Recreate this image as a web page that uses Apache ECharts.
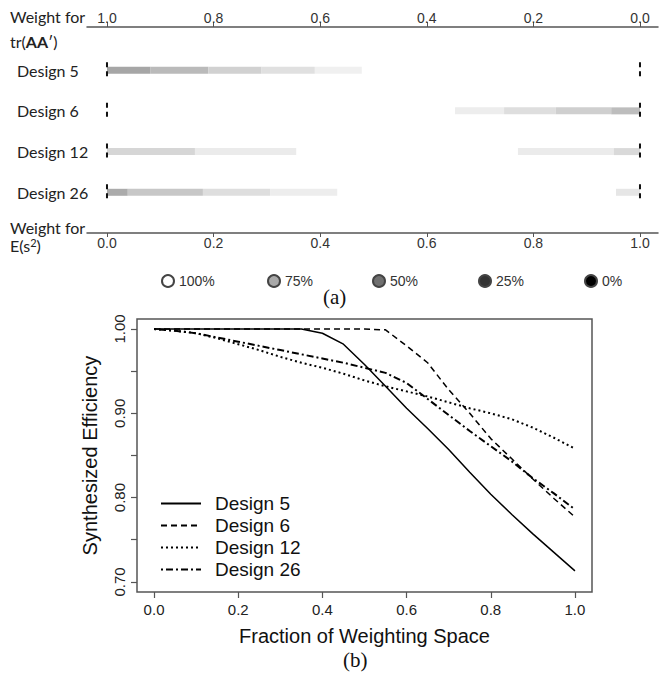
<!DOCTYPE html>
<html><head><meta charset="utf-8">
<script src="https://cdn.jsdelivr.net/npm/echarts@6/dist/echarts.min.js"></script>
<style>html,body{margin:0;padding:0;background:#fff}#c{width:659px;height:675px}</style>
</head><body><div id="c"></div>
<script>
// ---------- Panel (a) data ----------
const designs = ['Design 5', 'Design 6', 'Design 12', 'Design 26'];
const designRows = [4, 3, 2, 1];
const weightTicks = [0, 0.2, 0.4, 0.6, 0.8, 1.0];
// segment boundaries (weight for E(s^2)) and grey level of each segment (1 = white, 0 = black)
const d5Breaks = [0, 0.081, 0.19, 0.29, 0.39, 0.478];
const d5Levels = [0.65, 0.73, 0.82, 0.88, 0.94];
const d6Breaks = [0.653, 0.745, 0.842, 0.946, 1.0];
const d6Levels = [0.93, 0.87, 0.81, 0.74];
const d12Breaks = [0, 0.165, 0.355, 0.771, 0.951, 1.0];
const d12Levels = [0.84, 0.92, null, 0.92, 0.85];
const d26Breaks = [0, 0.039, 0.18, 0.306, 0.432, 0.955, 1.0];
const d26Levels = [0.67, 0.78, 0.87, 0.93, null, 0.90];
const markerPositions = [0, 1];
const levelNames = ['100%', '75%', '50%', '25%', '0%'];
const levelColors = ['#ffffff', '#a9a9a9', '#707070', '#333333', '#000000'];

// ---------- Panel (b) data ----------
const fraction = [0, 0.05, 0.1, 0.15, 0.2, 0.25, 0.3, 0.35, 0.4, 0.45, 0.5, 0.55, 0.6, 0.65, 0.7, 0.75, 0.8, 0.85, 0.9, 0.95, 1.0];
const eff5  = [1.000, 1.000, 1.000, 1.000, 1.000, 1.000, 1.000, 1.000, 0.995, 0.982, 0.958, 0.932, 0.906, 0.882, 0.857, 0.830, 0.804, 0.780, 0.757, 0.735, 0.713];
const eff6  = [1.000, 1.000, 1.000, 1.000, 1.000, 1.000, 1.000, 1.000, 1.000, 1.000, 1.000, 0.999, 0.980, 0.960, 0.928, 0.900, 0.870, 0.846, 0.822, 0.799, 0.777];
const eff12 = [1.000, 0.998, 0.995, 0.989, 0.982, 0.975, 0.967, 0.960, 0.954, 0.947, 0.939, 0.932, 0.926, 0.920, 0.913, 0.906, 0.900, 0.893, 0.883, 0.871, 0.858];
const eff26 = [1.000, 0.998, 0.995, 0.990, 0.985, 0.980, 0.975, 0.970, 0.965, 0.960, 0.954, 0.948, 0.936, 0.917, 0.898, 0.879, 0.861, 0.843, 0.823, 0.805, 0.786];
const effTicks = [0.70, 0.75, 0.80, 0.85, 0.90, 0.95, 1.00];
const effLabels = [0.70, 0.80, 0.90, 1.00];
const fracTicks = [0, 0.2, 0.4, 0.6, 0.8, 1.0];

// ---------- helpers ----------
function gray(l) { const g = Math.round(l * 255); return 'rgb(' + g + ',' + g + ',' + g + ')'; }
function segs(breaks, levels, row) {
  const out = [];
  for (let i = 0; i < levels.length; i++) if (levels[i] != null) out.push([breaks[i], breaks[i + 1], row, levels[i]]);
  return out;
}
const segData = [].concat(
  segs(d5Breaks, d5Levels, designRows[0]),
  segs(d6Breaks, d6Levels, designRows[1]),
  segs(d12Breaks, d12Levels, designRows[2]),
  segs(d26Breaks, d26Levels, designRows[3])
);
const markerData = [];
designRows.forEach(r => markerPositions.forEach(p => markerData.push([p, r])));
const pairs = arr => fraction.map((x, i) => [x, arr[i]]);

const A = 'Liberation Sans', L = 'Lato', S = 'Liberation Serif';
const axCol = '#555';
const legendLeft = [156, 262, 367, 473, 579];

const chart = echarts.init(document.getElementById('c'), null, { renderer: 'svg' });
chart.setOption({
  animation: false,
  backgroundColor: '#fff',
  title: [
    { text: 'Weight for', left: 10, top: 8, padding: 0, textStyle: { fontFamily: L, fontSize: 16, fontWeight: 'normal', color: '#222' } },
    { text: 'tr({b|AA}′)', left: 10, top: 33, padding: 0, textStyle: { fontFamily: L, fontSize: 16, fontWeight: 'normal', color: '#222', rich: { b: { fontFamily: L, fontSize: 16, fontWeight: 'bold', color: '#222' } } } },
    { text: 'Weight for', left: 10, top: 219, padding: 0, textStyle: { fontFamily: L, fontSize: 16, fontWeight: 'normal', color: '#222' } },
    { text: 'E(s{s|2})', left: 10, top: 237, padding: 0, textStyle: { fontFamily: L, fontSize: 16, fontWeight: 'normal', color: '#222', rich: { s: { fontFamily: L, fontSize: 11, verticalAlign: 'top', color: '#222' } } } },
    { text: '(a)', left: 323, top: 286, padding: 0, textStyle: { fontFamily: S, fontSize: 21, fontWeight: 'normal', color: '#111' } },
    { text: '(b)', left: 343, top: 649, padding: 0, textStyle: { fontFamily: S, fontSize: 21, fontWeight: 'normal', color: '#111' } }
  ],
  legend: [
    {
      data: ['Design 5', 'Design 6', 'Design 12', 'Design 26'], orient: 'vertical', left: 155, top: 489,
      itemWidth: 40, itemHeight: 14, itemGap: 3, selectedMode: false,
      itemStyle: { opacity: 0 },
      textStyle: { fontFamily: A, fontSize: 19, color: '#111', padding: [0, 0, 0, 9] }
    }
  ].concat(levelNames.map((n, i) => ({
    data: [n], left: legendLeft[i], top: 269, icon: 'circle', itemWidth: 12, itemHeight: 12, selectedMode: false,
    itemStyle: { opacity: 1 },
    textStyle: { fontFamily: A, fontSize: 14, color: '#333' }
  }))),
  grid: [
    { left: 87, width: 571, top: 27, height: 206 },
    { left: 137, width: 455, top: 319, height: 273, show: true, borderColor: axCol, borderWidth: 1.5 }
  ],
  xAxis: [
    { gridIndex: 0, type: 'value', min: -0.0375, max: 1.0338, position: 'bottom',
      axisLine: { show: true, onZero: false, lineStyle: { color: axCol, width: 1.5 } },
      axisTick: { show: true, length: 4, customValues: weightTicks, lineStyle: { color: axCol } },
      axisLabel: { customValues: weightTicks, formatter: v => v.toFixed(1), margin: 3, fontFamily: A, fontSize: 14, color: '#333' },
      splitLine: { show: false } },
    { gridIndex: 0, type: 'value', min: -0.0338, max: 1.0375, inverse: true, position: 'top',
      axisLine: { show: true, onZero: false, lineStyle: { color: axCol, width: 1.5 } },
      axisTick: { show: true, length: 5, customValues: weightTicks, lineStyle: { color: axCol } },
      axisLabel: { customValues: weightTicks, formatter: v => v.toFixed(1), margin: 2, fontFamily: A, fontSize: 14, color: '#333' },
      splitLine: { show: false } },
    { gridIndex: 1, type: 'value', min: -0.0405, max: 1.0405, position: 'bottom',
      name: 'Fraction of Weighting Space', nameLocation: 'middle', nameGap: 34,
      nameTextStyle: { fontFamily: A, fontSize: 20, color: '#111' },
      axisLine: { show: false, onZero: false },
      axisTick: { show: true, length: 6, customValues: fracTicks, lineStyle: { color: axCol, width: 1.2 } },
      axisLabel: { customValues: fracTicks, formatter: v => v.toFixed(1), margin: 10, fontFamily: A, fontSize: 15, color: '#222' },
      splitLine: { show: false } }
  ],
  yAxis: [
    { gridIndex: 0, type: 'value', min: 0, max: 5.06, position: 'left',
      axisLine: { show: false, onZero: false }, axisTick: { show: false },
      axisLabel: { customValues: designRows, formatter: v => designs[designRows.indexOf(v)], align: 'left', margin: 70, fontFamily: L, fontSize: 16, color: '#222' },
      splitLine: { show: false } },
    { gridIndex: 1, type: 'value', min: 0.688, max: 1.0119, position: 'left',
      name: 'Synthesized Efficiency', nameLocation: 'middle', nameGap: 37,
      nameTextStyle: { fontFamily: A, fontSize: 20, color: '#111' },
      axisLine: { show: false, onZero: false },
      axisTick: { show: true, length: 6, customValues: effTicks, lineStyle: { color: axCol, width: 1.2 } },
      axisLabel: { customValues: effLabels, formatter: v => v.toFixed(2), rotate: 90, margin: 10, align: 'center', verticalAlign: 'bottom', fontFamily: A, fontSize: 15, color: '#222' },
      splitLine: { show: false } }
  ],
  series: [
    { type: 'custom', xAxisIndex: 0, yAxisIndex: 0, data: segData, encode: { x: [0, 1], y: 2 }, silent: true,
      renderItem: (params, api) => {
        const a = api.coord([api.value(0), api.value(2)]);
        const b = api.coord([api.value(1), api.value(2)]);
        return { type: 'rect', shape: { x: a[0], y: a[1] - 3.5, width: b[0] - a[0], height: 7 }, style: { fill: gray(api.value(3)) } };
      } },
    { type: 'custom', xAxisIndex: 0, yAxisIndex: 0, data: markerData, encode: { x: 0, y: 1 }, silent: true, z: 5,
      renderItem: (params, api) => {
        const p = api.coord([api.value(0), api.value(1)]);
        return { type: 'line', shape: { x1: p[0], y1: p[1] - 8, x2: p[0], y2: p[1] + 8 }, style: { stroke: '#111', lineWidth: 2, lineDash: [5, 4] } };
      } }
  ].concat(levelNames.map((n, i) => ({
    name: n, type: 'scatter', xAxisIndex: 0, yAxisIndex: 0, data: [],
    itemStyle: { color: levelColors[i], borderColor: '#444', borderWidth: 1, opacity: 1 }
  }))).concat([
    { name: 'Design 5', type: 'line', xAxisIndex: 2, yAxisIndex: 1, data: pairs(eff5), symbol: 'none', lineStyle: { color: '#000', width: 1.5, type: 'solid' }, itemStyle: { color: '#000' } },
    { name: 'Design 6', type: 'line', xAxisIndex: 2, yAxisIndex: 1, data: pairs(eff6), symbol: 'none', lineStyle: { color: '#000', width: 1.5, type: [6, 4] }, itemStyle: { color: '#000' } },
    { name: 'Design 12', type: 'line', xAxisIndex: 2, yAxisIndex: 1, data: pairs(eff12), symbol: 'none', lineStyle: { color: '#000', width: 2, type: [2, 3] }, itemStyle: { color: '#000' } },
    { name: 'Design 26', type: 'line', xAxisIndex: 2, yAxisIndex: 1, data: pairs(eff26), symbol: 'none', lineStyle: { color: '#000', width: 2, type: [2, 3, 7, 3] }, itemStyle: { color: '#000' } }
  ])
});
</script>
</body></html>
